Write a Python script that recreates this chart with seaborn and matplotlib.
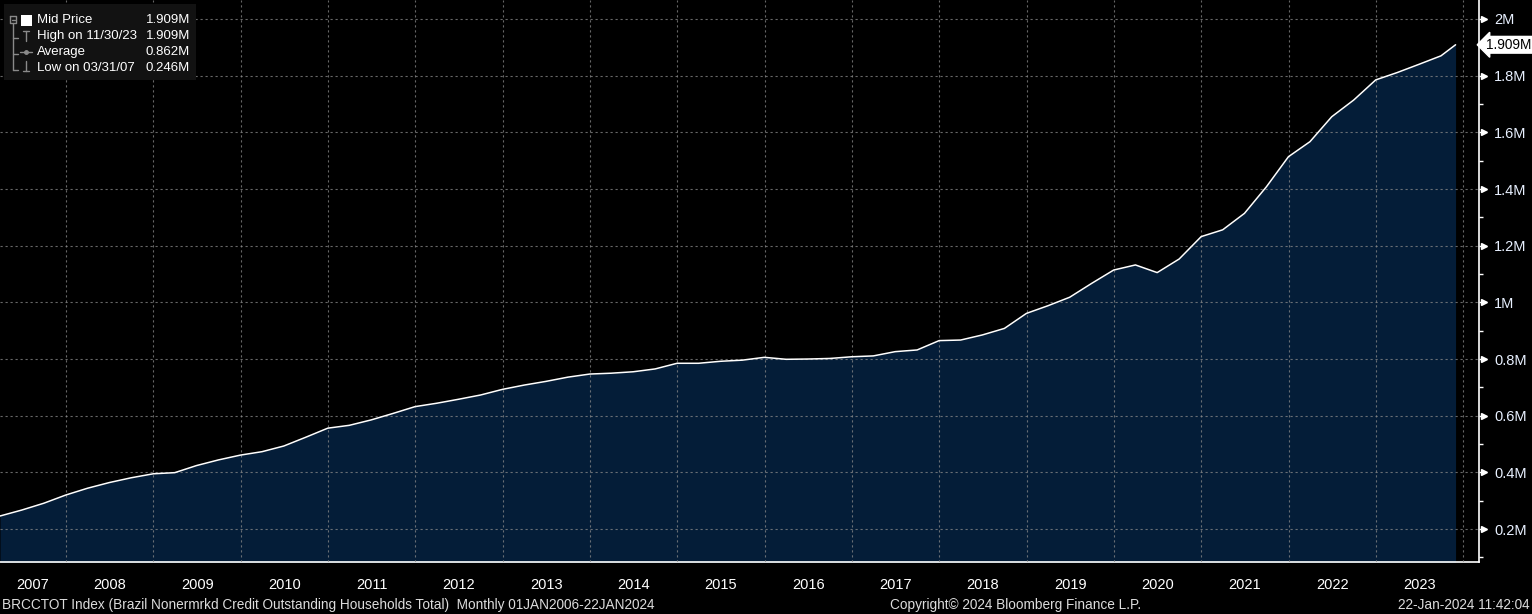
import pandas as pd
import numpy as np
import matplotlib
matplotlib.use("Agg")
import matplotlib.pyplot as plt
import matplotlib.dates as mdates
from matplotlib.lines import Line2D
from matplotlib.patches import Rectangle
from matplotlib.ticker import FixedLocator, FuncFormatter
import seaborn as sns

# quarter-end readings (millions), Mar 2007 .. Sep 2023, then last print Nov 2023
values = [
    0.246, 0.267, 0.291, 0.320,
    0.344, 0.364, 0.381, 0.395,
    0.399, 0.424, 0.444, 0.461,
    0.473, 0.493, 0.524, 0.556,
    0.566, 0.585, 0.608, 0.632,
    0.644, 0.658, 0.673, 0.693,
    0.708, 0.721, 0.736, 0.747,
    0.750, 0.755, 0.765, 0.785,
    0.785, 0.792, 0.796, 0.806,
    0.799, 0.800, 0.802, 0.808,
    0.811, 0.826, 0.832, 0.865,
    0.867, 0.885, 0.908, 0.961,
    0.988, 1.018, 1.067, 1.114,
    1.132, 1.105, 1.153, 1.232,
    1.256, 1.314, 1.408, 1.514,
    1.567, 1.655, 1.714, 1.785,
    1.811, 1.840, 1.870,
    1.909,
]
dates = list(pd.date_range("2007-03-31", periods=len(values) - 1, freq="QE")) + [pd.Timestamp("2023-11-30")]

y_ticks = [0.2, 0.4, 0.6, 0.8, 1.0, 1.2, 1.4, 1.6, 1.8, 2.0]
y_labels = ["0.2M", "0.4M", "0.6M", "0.8M", "1M", "1.2M", "1.4M", "1.6M", "1.8M", "2M"]
years = list(range(2007, 2024))

legend_names = ["Mid Price", "High on 11/30/23", "Average", "Low on 03/31/07"]
legend_vals = ["1.909M", "1.909M", "0.862M", "0.246M"]
last_label = "1.909M"

title_left = "BRCCTOT Index (Brazil Nonermrkd Credit Outstanding Households Total)  Monthly 01JAN2006-22JAN2024"
title_mid = "Copyright\u00a9 2024 Bloomberg Finance L.P."
title_right = "22-Jan-2024 11:42:04"

df = pd.DataFrame({"date": dates, "value": values})

sns.set_theme(style="dark")
plt.rcParams["font.family"] = ["Liberation Sans", "DejaVu Sans"]

BG = "#000000"
FILL = "#041d38"
W, H = 1532, 614

fig = plt.figure(figsize=(W / 100, H / 100), dpi=100, facecolor=BG)
ax = fig.add_axes([0, (H - 562) / H, 1479 / W, 562 / H])
ax.set_facecolor(BG)

ax.fill_between(df["date"], 0, df["value"], color=FILL, lw=0, zorder=1)
sns.lineplot(data=df, x="date", y="value", ax=ax, color="white", lw=1.1, zorder=3)

x0 = pd.Timestamp("2007-03-31")
x1 = pd.Timestamp("2024-03-07")
ax.set_xlim(x0, x1)
ax.set_ylim(0.0837, 2.067)
ax.set_xlabel("")
ax.set_ylabel("")

# y axis on right, with arrow-head tick marks
ax.yaxis.tick_right()
ax.set_yticks(y_ticks)
ax.set_yticklabels(y_labels)
ax.set_yticks(np.arange(0.1, 2.05, 0.2), minor=True)
ax.tick_params(axis="y", which="major", colors="white", labelcolor="#e8f0ff",
               direction="out", length=5, width=1, labelsize=10.5, pad=6)
ax.tick_params(axis="y", which="minor", colors="white", direction="out", length=3, width=1)
ax.plot([1.0035] * len(y_ticks), y_ticks, ls="none", marker=">", ms=5, color="white",
        transform=ax.get_yaxis_transform(), clip_on=False, zorder=6)

# x axis: year separators, quarter ticks, labels centred in each year
bounds = [pd.Timestamp(f"{y}-01-01") for y in years[1:]] + [pd.Timestamp("2024-01-01")]
ax.xaxis.set_major_locator(FixedLocator(mdates.date2num(bounds)))
ax.xaxis.set_major_formatter(FuncFormatter(lambda v, p: ""))
quarters = pd.date_range("2007-04-01", "2024-01-01", freq="QS")
ax.xaxis.set_minor_locator(FixedLocator(mdates.date2num(quarters)))
ax.xaxis.set_minor_formatter(FuncFormatter(lambda v, p: ""))
ax.tick_params(axis="x", which="major", colors="#8a8a8a", direction="out", length=26, width=1)
ax.tick_params(axis="x", which="minor", colors="white", direction="out", length=3, width=1)

for y in years:
    left = max(pd.Timestamp(f"{y}-01-01"), x0)
    right = pd.Timestamp(f"{y + 1}-01-01")
    mid = left + (right - left) / 2
    ax.text(mid, -0.0415, str(y), transform=ax.get_xaxis_transform(), ha="center", va="center",
            color="white", fontsize=10.5)

ax.grid(True, which="major", axis="both", color="#8a8a8a", ls=(0, (2, 2.5)), lw=0.8, alpha=0.75)
ax.set_axisbelow(False)

for s in ["top", "left"]:
    ax.spines[s].set_visible(False)
for s in ["bottom", "right"]:
    ax.spines[s].set_visible(True)
    ax.spines[s].set_color("white")
    ax.spines[s].set_linewidth(1.2)

# last value tag
ax.annotate(last_label, xy=(1.0, values[-1]), xycoords=("axes fraction", "data"),
            xytext=(5, 0), textcoords="offset points", ha="left", va="center",
            color="black", fontsize=9.8,
            bbox=dict(boxstyle="larrow,pad=0.1", fc="white", ec="white"),
            annotation_clip=False, zorder=7)

# legend box (pixel coords)
def fx(px):
    return px / W

def fy(py):
    return 1 - py / H

fig.patches.append(Rectangle((fx(4), fy(80)), fx(192), 76 / H, transform=fig.transFigure,
                             fc="#121212", ec="none", zorder=5))
rows = [20, 36, 52, 68]
for name, val, r in zip(legend_names, legend_vals, rows):
    fig.text(fx(37), fy(r), name, color="white", fontsize=9.5, va="center", ha="left", zorder=6)
    fig.text(fx(190), fy(r), val, color="white", fontsize=9.5, va="center", ha="right", zorder=6)

gray = "#8a8a8a"
def pline(xs, ys, c=gray, lw=1):
    fig.lines.append(Line2D([fx(v) for v in xs], [fy(v) for v in ys], transform=fig.transFigure,
                            color=c, lw=lw, zorder=6))

pline([10, 16, 16, 10, 10], [16, 16, 23, 23, 16])
pline([11.5, 14.5], [19.5, 19.5])
pline([13, 13], [23, 70])
for r in rows[1:]:
    pline([13, 18], [r + 2, r + 2])
fig.patches.append(Rectangle((fx(21), fy(26)), fx(11), 11 / H, transform=fig.transFigure,
                             fc="white", ec="none", zorder=6))
pline([23, 29], [31, 31]); pline([26, 26], [31, 41])
pline([20, 32], [52, 52]); fig.lines.append(Line2D([fx(26)], [fy(52)], marker="o", ms=2.5,
                                                    color=gray, transform=fig.transFigure, zorder=6))
pline([26, 26], [61, 71]); pline([23, 29], [71, 71])

# footer
fig.text(fx(2), fy(605), title_left, color="#dcdcdc", fontsize=9.8, va="center", ha="left")
fig.text(fx(890), fy(605), title_mid, color="#dcdcdc", fontsize=9.8, va="center", ha="left")
fig.text(fx(1530), fy(605), title_right, color="#dcdcdc", fontsize=9.8, va="center", ha="right")

fig.savefig("out.png", dpi=100, facecolor=BG)
